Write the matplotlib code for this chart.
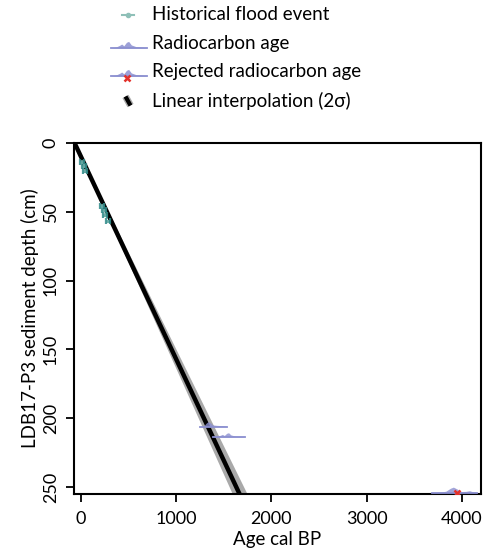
import numpy as np
import matplotlib
matplotlib.use("Agg")
import matplotlib.pyplot as plt

plt.rcParams['font.family'] = ['Lato', 'DejaVu Sans']

# age-depth model (linear interpolation with 2 sigma band)
model_depth = [0, 255]
model_age = [-67, 1665]
model_lo = [-67, 1590]
model_hi = [-67, 1745]

# historical flood events
flood_depth = [14, 17, 20, 46, 49, 52, 57]
flood_age = [10, 30, 45, 225, 240, 255, 285]
flood_err = [20, 20, 20, 20, 20, 20, 20]

# radiocarbon age distributions (baseline depth, ages, relative height in cm)
rc1_depth = 206
rc1_age = [1255, 1290, 1315, 1335, 1355, 1385, 1420, 1470, 1510, 1530]
rc1_h = [0, 0.5, 2.5, 3.6, 2.8, 1.2, 0.9, 0.7, 0.4, 0]
rc2_depth = 213.5
rc2_age = [1385, 1430, 1465, 1485, 1505, 1530, 1550, 1575, 1620, 1680, 1722]
rc2_h = [0, 0.4, 1.2, 1.8, 1.0, 2.6, 3.0, 1.4, 0.6, 0.4, 0]
rej_depth = 254
rej_age = [3690, 3760, 3830, 3880, 3910, 3950, 3990, 4040, 4080, 4120, 4160]
rej_h = [0, 0.3, 1.0, 3.2, 4.0, 2.6, 0.8, 0.9, 1.4, 0.5, 0]
rej_x_age = [3950]
rej_x_depth = [254]

rc_col = '#8b8fd0'
teal = '#2f8a88'

fig = plt.figure(figsize=(4.91, 5.56), dpi=100)
ax = fig.add_axes([74/491, 1-494/556, (481-74)/491, (494-143)/556])

ax.fill_betweenx(model_depth, model_lo, model_hi, color='#a9a9a9', lw=0, zorder=2)
ax.plot(model_age, model_depth, color='black', lw=3.2, solid_capstyle='butt', zorder=3)

ax.errorbar(flood_age, flood_depth, xerr=flood_err, fmt='none', ecolor=teal,
            elinewidth=2, capsize=2, capthick=1.6, alpha=0.85, zorder=4)
ax.errorbar(flood_age, flood_depth, yerr=1.4, fmt='none', ecolor='#6fb0aa',
            elinewidth=1.6, alpha=0.8, zorder=4)

for d, a, h in [(rc1_depth, rc1_age, rc1_h), (rc2_depth, rc2_age, rc2_h),
                (rej_depth, rej_age, rej_h)]:
    a = np.array(a)
    h = np.array(h)
    ax.fill_between(a, d, d - h, color=rc_col, lw=0, alpha=0.8, zorder=5)
    ax.plot([a[0], a[-1]], [d, d], color=rc_col, lw=1.3, zorder=5)

ax.plot(rej_x_age, rej_x_depth, 'x', color='#e3302a', ms=5, mew=1.8, zorder=6)

ax.set_xlim(-73, 4200)
ax.set_ylim(255, 0)
ax.set_xticks([0, 1000, 2000, 3000, 4000])
ax.set_yticks([0, 50, 100, 150, 200, 250])
for s in ax.spines.values():
    s.set_linewidth(1.5)
ax.tick_params(direction='out', length=6, width=1.3, labelsize=13)
ax.tick_params(axis='x', pad=6)
ax.tick_params(axis='y', pad=5)
for lab in ax.get_yticklabels():
    lab.set_rotation(90)
    lab.set_va('center')
ax.set_xlabel('Age cal BP', fontsize=13.5, labelpad=3)
ax.set_ylabel('LDB17-P3 sediment depth (cm)', fontsize=13.5, labelpad=3)

# legend drawn in pixel-like coordinates
lg = fig.add_axes([0, 1-118/556, 1, 118/556])
lg.set_xlim(0, 491)
lg.set_ylim(118, 0)
lg.axis('off')

lg.plot([122, 134], [15, 15], color='#8fc0b8', lw=1.5)
lg.plot([128], [15], 'o', color='#8fc0b8', ms=3)

leg_x = np.array(rc2_age)
leg_x = 111 + (leg_x - leg_x[0]) / (leg_x[-1] - leg_x[0]) * 36
leg_h = np.array(rc2_h) * 2.2
for yb in [48, 76]:
    lg.fill_between(leg_x, yb, yb - leg_h, color=rc_col, lw=0, alpha=0.85)
    lg.plot([111, 147], [yb, yb], color=rc_col, lw=1.3)
lg.plot([127], [78], 'x', color='#e3302a', ms=4.5, mew=1.8)

lg.plot([125.5, 130.5], [96.5, 105.5], color='#a9a9a9', lw=5, solid_capstyle='butt')
lg.plot([125.5, 130.5], [96.5, 105.5], color='black', lw=3, solid_capstyle='butt')

labels = ['Historical flood event', 'Radiocarbon age', 'Rejected radiocarbon age',
          'Linear interpolation (2\u03c3)']
for y, t in zip([15, 43, 72, 101], labels):
    lg.text(152, y, t, fontsize=13.5, va='center', ha='left')

fig.savefig('out.png', dpi=100)
